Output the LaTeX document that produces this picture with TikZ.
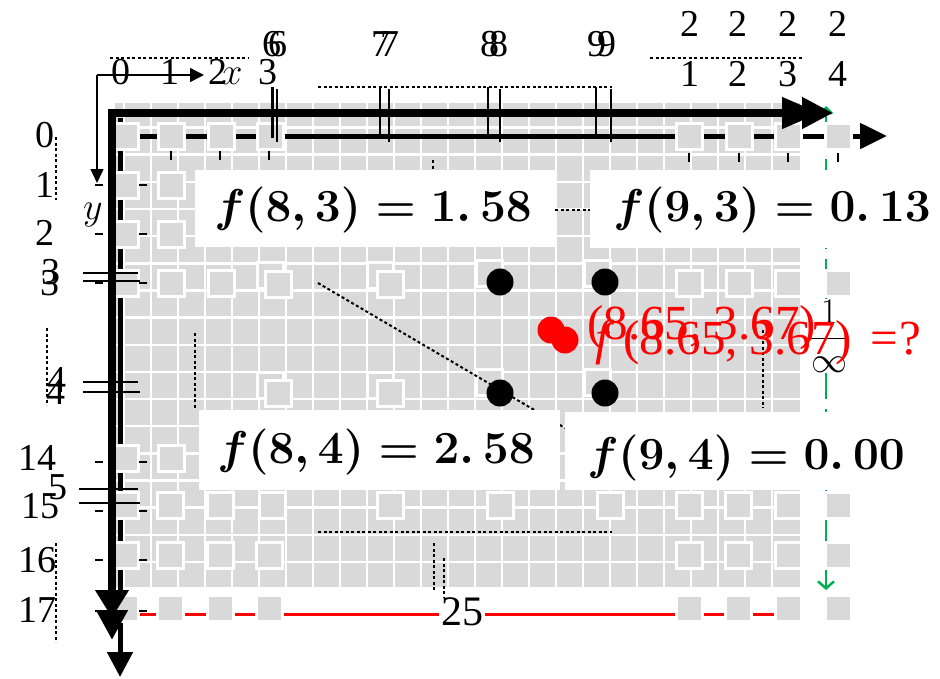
\RequirePackage{fix-cm}
\documentclass[tikz,border=0pt]{standalone}
\usepackage{fontspec}
\setmainfont{Liberation Serif}
\usetikzlibrary{arrows.meta}
\definecolor{cellgray}{HTML}{D9D9D9}
\definecolor{agreen}{HTML}{00B050}
\begin{document}
\begin{tikzpicture}[x=1pt,y=-1pt,
  sq/.style={rectangle, fill=cellgray, draw=white, line width=3pt, minimum size=26pt, inner sep=0pt},
  lbl/.style={font=\fontsize{38}{40}\selectfont, inner sep=0pt},
  dotl/.style={line width=2pt, dash pattern=on 3pt off 2.5pt},
  tk/.style={line width=2pt},
  dtk/.style={line width=2.5pt},
  wbox/.style={fill=white, inner sep=0pt},
  ftxt/.style={inner sep=0pt, font=\fontsize{46}{50}\selectfont\boldmath},
  bdot/.style={circle, fill=black, minimum size=27pt, inner sep=0pt},
  rdot/.style={circle, fill=red, minimum size=27pt, inner sep=0pt},
  rtxt/.style={text=red, inner sep=0pt, font=\fontsize{49}{51}\selectfont, anchor=west},
]
\useasboundingbox (0,0) rectangle (940,678);
% gray pixel grid
\fill[cellgray] (115,103) rectangle (800,587);
\foreach \k in {0,...,24} \draw[white, line width=2.5pt] (124+27*\k,103) -- (124+27*\k,587);
\foreach \k in {1,...,17} \draw[white, line width=2.5pt] (115,100.4+27.15*\k) -- (800,100.4+27.15*\k);
% secondary axes
\coordinate (o2) at (120,136);
\coordinate (x2) at (887,136);
\coordinate (o3) at (120,118);
\coordinate (y2) at (120,677);
\draw[line width=5pt, -{Triangle[length=27pt,width=25pt]}] (o2) -- (x2);
\draw[line width=5pt, -{Triangle[length=25pt,width=25pt]}] (o3) -- (y2);
% red line
\coordinate (r1) at (130,614);
\coordinate (r2) at (800,614);
\draw[red, line width=3pt] (r1) -- (r2);
% green line
\coordinate (g1) at (826,106);
\coordinate (g2) at (826,590);
\draw[agreen, line width=2.5pt, dash pattern=on 40pt off 10pt, {Straight Barb[length=6pt,width=12pt]}-{Straight Barb[length=7pt,width=16pt]}] (g1) -- (g2);
% squares
\foreach \x in {125,171,221,270,689,739,788,838} \node[sq] (sa\x) at (\x,136) {};
\foreach \y in {185,234,458} {\node[sq] (sb\y) at (125,\y) {}; \node[sq] (sc\y) at (171,\y) {};}
\foreach \x in {125,171,221,689,739,788,838} \node[sq] (sd\x) at (\x,283) {};
\foreach \x/\y [count=\i] in {270/275,278/284,380/275,390/284,489/273,597/273,270/385,278/393,380/385,390/393,489/382,597/382} \node[sq] (se\i) at (\x,\y) {};
\foreach \x in {125,170,220,272,390,500,610,689,738,788,838} \node[sq] (sf\x) at (\x,505) {};
\foreach \x in {125,170,220,269,689,738,788,838} {\node[sq] (sg\x) at (\x,555) {}; \node[sq] (sh\x) at (\x,608) {};}
% main axes
\coordinate (ya) at (112,640);
\coordinate (oa) at (112,113);
\coordinate (xa) at (833,113);
\draw[line width=7.5pt, {Triangle[length=30pt,width=30pt]}-{Triangle[length=31pt,width=30pt]}] (ya) -- (oa) -- (xa);
\coordinate (ya1) at (112,580);
\coordinate (ya2) at (112,618);
\draw[line width=7.5pt, -{Triangle[length=28pt,width=32pt]}] (ya1) -- (ya2);
\coordinate (xa1) at (760,113);
\coordinate (xa2) at (820,113);
\draw[line width=7.5pt, -{Triangle[length=38pt,width=30pt]}] (xa1) -- (xa2);
% small axes
\coordinate (sa) at (97,75);
\coordinate (sx) at (204,75);
\coordinate (sy) at (97,183);
\draw[line width=1.5pt, -{Triangle[length=14pt,width=14pt]}] (sa) -- (sx);
\draw[line width=1.5pt, -{Triangle[length=14pt,width=13pt]}] (sa) -- (sy);
% double ticks
\foreach \a/\b in {272.5/277,380/389,488/500,596/611} {\draw[dtk] (\a,87) -- (\a,138); \draw[dtk] (\b,89) -- (\b,142);}
\foreach \a/\b/\s in {273/281/83,382/392/83,489/503/79} {\draw[dtk] (\s,\a) -- (138,\a); \draw[dtk] (\s,\b) -- (140,\b);}
% short ticks
\foreach \y in {185,234,283,462,511,560,611} {\draw[tk] (95,\y) -- (103,\y); \draw[tk] (139,\y) -- (147,\y);}
\foreach \x in {171,220,269} \draw[tk] (\x,151) -- (\x,160);
\foreach \x in {689,739,788,838} \draw[tk] (\x,153) -- (\x,162);
% dotted guides
\draw[dotl] (110,58) -- (248,58);
\draw[dotl] (318,87) -- (612,87);
\draw[dotl] (650,58) -- (803,58);
\draw[dotl] (56,137) -- (56,200);
\draw[dotl] (47,328) -- (47,405);
\draw[dotl] (56,543) -- (56,642);
\draw[dotl] (195,333) -- (195,408);
\draw[dotl] (763,330) -- (763,408);
\draw[dotl] (318,532) -- (612,532);
\draw[dotl] (318,283) -- (565,428);
\draw[dotl] (433,160) -- (433,170);
\draw[dotl] (555,210) -- (590,210);
% value boxes
\node[wbox, minimum width=360pt, minimum height=77pt] (b1) at (375,208.5) {};
\node[wbox, minimum width=340pt, minimum height=78pt] (b2) at (760,209) {};
\node[wbox, minimum width=361pt, minimum height=80pt] (b3) at (379.5,450) {};
\node[wbox, minimum width=340pt, minimum height=78pt] (b4) at (735,451) {};
\node[ftxt] (t1) at (373,210) {$f(8,3)=1.\,58$};
\node[ftxt] (t2) at (772,210) {$f(9,3)=0.\,13$};
\node[ftxt] (t3) at (376,452) {$f(8,4)=2.\,58$};
\node[ftxt] (t4) at (746,458) {$f(9,4)=0.\,00$};
% sample points
\node[bdot] (p83) at (500,282) {};
\node[bdot] (p93) at (605,282) {};
\node[bdot] (p84) at (500,393) {};
\node[bdot] (p94) at (605,393) {};
\node[rdot] (q1) at (551,330) {};
\node[rdot] (q2) at (565,340) {};
% fraction
\node[fill=white, inner sep=1pt, font=\fontsize{36}{38}\selectfont] (inf) at (829,336) {$\displaystyle\frac{1}{\infty}$};
% red texts
\node[rtxt] (rt1) at (587,328) {(8.65, 3.67)};
\node[rtxt] (rt2) at (595,342) {\textit{f}\hspace{9pt}(8.65, 3.67)\hspace{18pt}=\hspace{2pt}?};
% axis labels
\node[lbl] (lx0) at (121,72) {0};
\node[lbl] (lx1) at (170,72) {1};
\node[lbl] (lx2) at (218,72) {2};
\node[lbl] (lxx) at (232,76) {$x$};
\node[lbl] (lx3) at (268,72) {3};
\node[lbl] (lx6a) at (272,44) {6};
\node[lbl] (lx6b) at (278,44) {6};
\node[lbl] (lx7a) at (381,44) {7};
\node[lbl] (lx7b) at (390,44) {7};
\node[lbl] (lx8a) at (490,44) {8};
\node[lbl] (lx8b) at (499,44) {8};
\node[lbl] (lx9a) at (597,44) {9};
\node[lbl] (lx9b) at (607,44) {9};
\foreach \x/\d in {690/1,738/2,788/3,838/4} {\node[lbl] (lt\d) at (\x,24) {2}; \node[lbl] (lu\d) at (\x,74) {\d};}
\node[lbl] (ly0) at (45,135) {0};
\node[lbl] (ly1) at (45,185) {1};
\node[lbl] (ly2) at (45,233) {2};
\node[lbl] (ly3a) at (51,272) {3};
\node[lbl] (ly3b) at (50,283) {3};
\node[lbl] (ly4a) at (57,380) {4};
\node[lbl] (ly4b) at (56,392) {4};
\node[lbl] (ly14) at (37,458) {14};
\node[lbl] (ly5) at (58,487) {5};
\node[lbl] (ly15) at (40,506) {15};
\node[lbl] (ly16) at (37,560) {16};
\node[lbl] (ly17) at (37,610) {17};
\node[lbl] (lyy) at (93,215) {$y$};
% width label
\node[fill=white, inner sep=2pt, font=\fontsize{42}{44}\selectfont] (n25) at (462,612) {25};
\draw[dotl] (434,543) -- (434,590);
\draw[dotl] (444,558) -- (444,597);
\end{tikzpicture}
\end{document}
